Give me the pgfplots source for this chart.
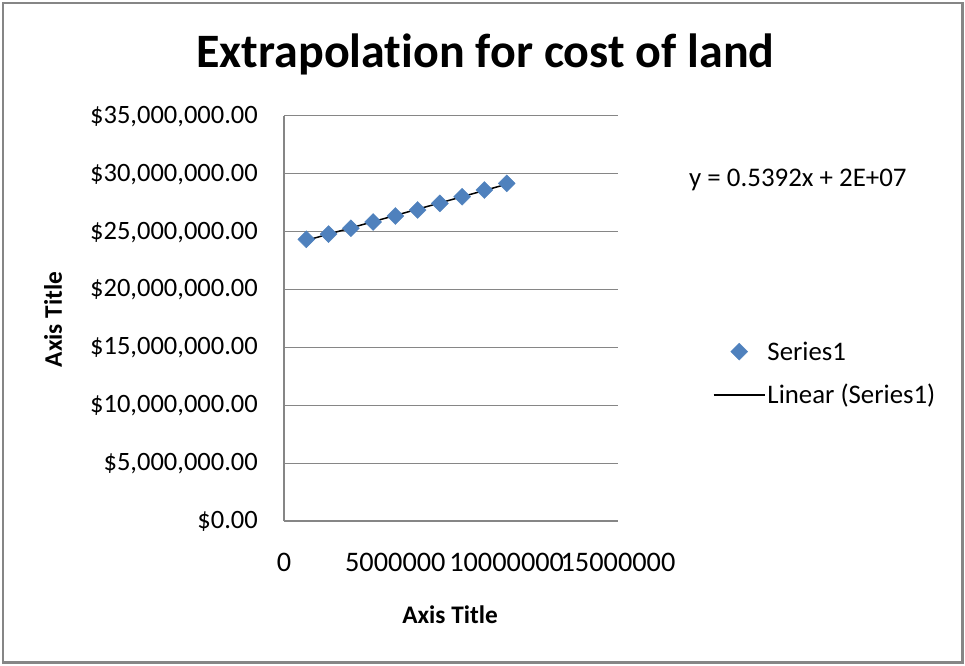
\documentclass[border=0pt]{standalone}
\usepackage{pgfplots}
\pgfplotsset{compat=1.18}
\usepackage{pgfplotstable}
\usepackage{fontspec}
\setmainfont{Carlito}[Ligatures=NoCommon]

\definecolor{seriesblue}{HTML}{4F81BD}
\definecolor{framegray}{HTML}{868686}

% Legend keys: marker centred on a 51pt key, trend line across the key
\pgfplotsset{
  diamondkey/.style={legend image code/.code={\draw[mark repeat=2,mark phase=2,##1]
    plot coordinates {(0pt,0pt) (25.5pt,0pt) (51pt,0pt)};}},
  linekey/.style={legend image code/.code={\draw[##1] (0pt,0pt) -- (51pt,0pt);}},
}

% Year index (scaled) against land cost in dollars
\pgfplotstableread{
X        Y
1000000  24330000
2000000  24780000
3000000  25280000
4000000  25820000
5000000  26340000
6000000  26860000
7000000  27430000
8000000  28000000
9000000  28580000
10000000 29154000
}\landdata

\begin{document}
\begin{tikzpicture}
% chart area
\path (0pt,0pt) rectangle (965pt,665pt);
\draw[framegray, line width=2.5pt] (3pt,2.5pt) rectangle (962.5pt,662pt);
\begin{axis}[
  at={(284pt,144pt)}, anchor=south west,
  scale only axis, width=334pt, height=405.3pt,
  clip=false,
  xmin=0, xmax=15000000, ymin=0, ymax=35000000,
  scaled ticks=false,
  xtick={0,5000000,10000000,15000000},
  xticklabels={0,5000000,10000000,15000000},
  ytick={0,5000000,10000000,15000000,20000000,25000000,30000000,35000000},
  yticklabels={{\$0.00},{\$5,000,000.00},{\$10,000,000.00},{\$15,000,000.00},
               {\$20,000,000.00},{\$25,000,000.00},{\$30,000,000.00},{\$35,000,000.00}},
  axis x line*=bottom, axis y line*=left,
  axis line style={framegray, line width=1.6pt, -},
  ymajorgrids, grid style={framegray, line width=1.2pt},
  major tick length=0pt,
  xticklabel style={anchor=base, inner sep=0pt, yshift=-50pt,
                    font=\fontsize{28.3}{34}\selectfont},
  yticklabel style={anchor=base east, inner sep=0pt, xshift=-26pt, yshift=-7.5pt,
                    font=\fontsize{26.5}{31}\selectfont},
  title={Extrapolation for cost of land},
  title style={at={(axis description cs:0.6033,1.1029)}, anchor=base, inner sep=0pt,
               font=\bfseries\fontsize{48}{57}\selectfont},
  xlabel={Axis Title},
  xlabel style={at={(axis description cs:0.497,-0.2517)}, anchor=base, inner sep=0pt,
                font=\bfseries\fontsize{25.3}{30}\selectfont},
  ylabel={Axis Title},
  ylabel style={at={(axis description cs:-0.6647,0.4972)}, anchor=base, inner sep=0pt,
                font=\bfseries\fontsize{25.3}{30}\selectfont},
  legend cell align=left,
  legend style={at={(axis description cs:1.2844,0.4461)}, anchor=north west,
                draw=none, fill=none, inner sep=0pt, outer sep=0pt,
                row sep=20.3pt, column sep=2pt,
                font=\fontsize{26.8}{31}\selectfont,
                nodes={inner sep=0pt, text height=20pt, text depth=3pt}},
]
\addplot[only marks, mark=square*, mark size=6pt,
         mark options={rotate=45, draw=seriesblue, fill=seriesblue},
         diamondkey]
  table[x=X, y=Y] {\landdata};
\addlegendentry{Series1}
\addplot[black, line width=1.5pt, no marks, linekey]
  table[x=X, y={create col/linear regression={y=Y}}] {\landdata};
\addlegendentry{Linear (Series1)}
\node[anchor=base west, inner sep=0pt, font=\fontsize{26.9}{32}\selectfont]
  at (axis description cs:1.2126,0.8241) {y = 0.5392x + 2E+07};
\end{axis}
\end{tikzpicture}
\end{document}
